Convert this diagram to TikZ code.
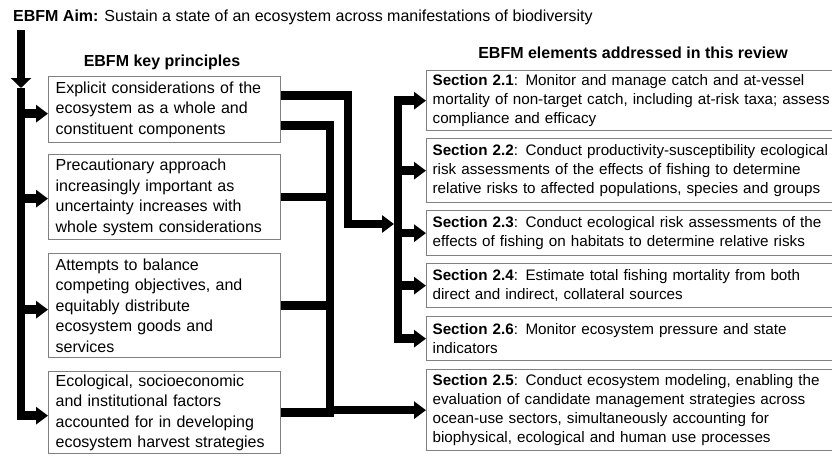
\documentclass[tikz,border=0pt]{standalone}
\usepackage{fontspec}
\setmainfont{Liberation Sans}
\usetikzlibrary{arrows.meta}
\definecolor{boxgray}{RGB}{128,128,128}
\begin{document}
\begin{tikzpicture}[x=1pt,y=-1pt,
  conn/.style={line width=8.5pt, line join=miter, draw=black},
  arr/.style={conn, -{Triangle[length=12pt,width=17pt]}},
  bigarr/.style={conn, -{Triangle[length=10pt,width=20pt]}},
  lbox/.style={draw=boxgray, line width=1.3pt, anchor=north west, text width=218pt,
    inner xsep=7pt, inner ysep=2pt, align=left, font=\fontsize{16}{20.5}\selectfont},
  rbox/.style={draw=boxgray, line width=1.3pt, anchor=north west, text width=406pt,
    inner xsep=6pt, inner ysep=2pt, align=left, font=\fontsize{15.2}{19}\selectfont},
  head/.style={anchor=base, font=\fontsize{16}{19}\selectfont\bfseries},
]
\useasboundingbox (0,0) rectangle (832,455);

% title
\node[anchor=base west, inner sep=0pt, font=\fontsize{16}{19}\selectfont] (aim) at (13,21)
  {\textbf{EBFM Aim:} Sustain a state of an ecosystem across manifestations of biodiversity};

% headers
\node[head] (hl) at (162,66) {EBFM key principles};
\node[head] (hr) at (633,58) {EBFM elements addressed in this review};

% left boxes
\node[lbox, minimum height=66pt] (b1) at (48,76)
  {Explicit considerations of the\\ecosystem as a whole and\\constituent components};
\node[lbox, minimum height=85pt] (b2) at (48,154)
  {Precautionary approach\\increasingly important as\\uncertainty increases with\\whole system considerations};
\node[lbox, minimum height=104pt] (b3) at (48,253)
  {Attempts to balance\\competing objectives, and\\equitably distribute\\ecosystem goods and\\services};
\node[lbox, minimum height=82pt] (b4) at (48,371)
  {Ecological, socioeconomic\\and institutional factors\\accounted for in developing\\ecosystem harvest strategies};

% right boxes
\node[rbox, minimum height=60pt] (s21) at (426,70)
  {\textbf{Section 2.1}: Monitor and manage catch and at-vessel\\mortality of non-target catch, including at-risk taxa; assess\\compliance and efficacy};
\node[rbox, minimum height=64pt] (s22) at (426,138)
  {\textbf{Section 2.2}: Conduct productivity-susceptibility ecological\\risk assessments of the effects of fishing to determine\\relative risks to affected populations, species and groups};
\node[rbox, minimum height=45pt] (s23) at (426,210)
  {\textbf{Section 2.3}: Conduct ecological risk assessments of the\\effects of fishing on habitats to determine relative risks};
\node[rbox, minimum height=44pt] (s24) at (426,263)
  {\textbf{Section 2.4}: Estimate total fishing mortality from both\\direct and indirect, collateral sources};
\node[rbox, minimum height=44pt] (s26) at (426,316)
  {\textbf{Section 2.6}: Monitor ecosystem pressure and state\\indicators};
\node[rbox, minimum height=81pt] (s25) at (426,369)
  {\textbf{Section 2.5}: Conduct ecosystem modeling, enabling the\\evaluation of candidate management strategies across\\ocean-use sectors, simultaneously accounting for\\biophysical, ecological and human use processes};

% helper coordinates
\coordinate (aimstart) at (21,30);
\coordinate (spine) at (21,88);
\coordinate (xA) at (348,0);
\coordinate (xB) at (330,0);
\coordinate (xBr) at (334,0);
\coordinate (xR) at (398,0);
\coordinate (rin) at (394,224);
\coordinate (rmid) at (398,224);
\coordinate (b1w) at ([yshift=-4pt]b1.west);
\coordinate (b2w) at ([yshift=-1.5pt]b2.west);
\coordinate (b3w) at ([yshift=-4pt]b3.west);
\coordinate (b4w) at ([yshift=-3pt]b4.west);
\coordinate (b1a) at ([yshift=14pt]b1.east);
\coordinate (b1b) at ([yshift=-16pt]b1.east);

% aim arrow and left spine
\draw[bigarr] (aimstart) -- (spine);
\draw[arr] (spine) |- (b4w);
\draw[arr] (spine |- b1w) -- (b1w);
\draw[arr] (spine |- b2w) -- (b2w);
\draw[arr] (spine |- b3w) -- (b3w);

% connectors from principles
\draw[arr] (b1a) -- (b1a -| xA) |- (rin);
\draw[arr] (b1b) -- (b1b -| xB) |- (s25.west);
\draw[conn] (b2.east) -- (b2.east -| xBr);
\draw[conn] (b3.east) -- (b3.east -| xBr);
\draw[conn] (b4.east) -- (b4.east -| xBr);

% right bar
\draw[arr] (rmid) |- (s21.west);
\draw[arr] (rmid) |- (s26.west);
\draw[arr] (s22.west -| xR) -- (s22.west);
\draw[arr] (s23.west -| xR) -- (s23.west);
\draw[arr] (s24.west -| xR) -- (s24.west);
\end{tikzpicture}
\end{document}
